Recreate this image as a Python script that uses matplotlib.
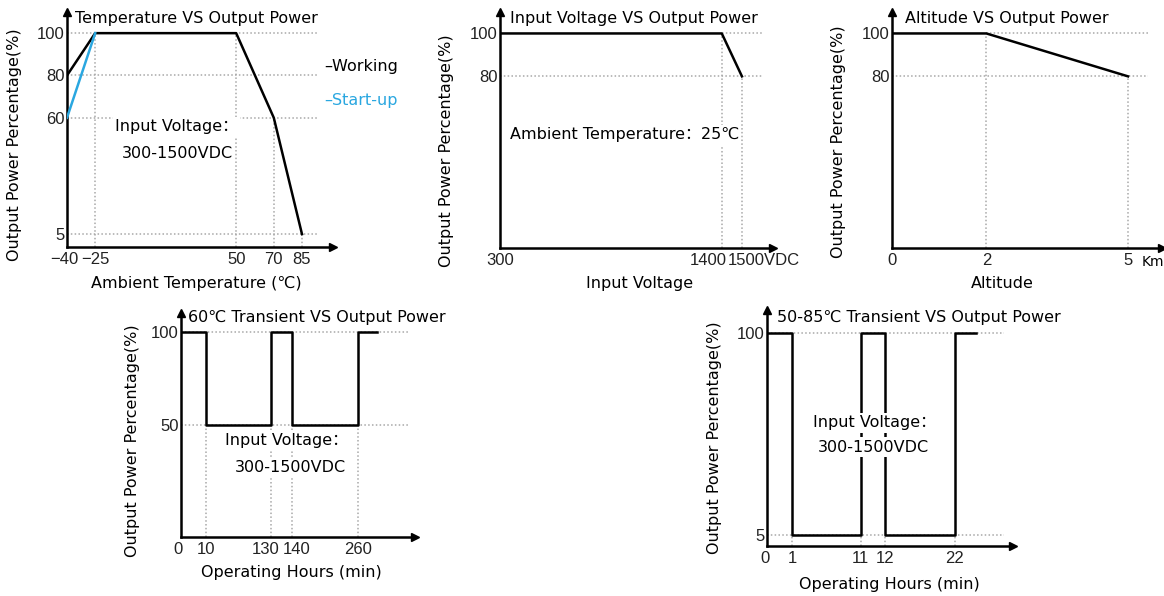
import matplotlib
matplotlib.use("Agg")
import matplotlib.pyplot as plt
import matplotlib.transforms as mtransforms
import numpy as np

plt.rcParams["font.family"] = ["DejaVu Sans", "Noto Sans CJK SC"]

W, H = 1164, 596
BLUE = "#2aa7e0"
GRID = "#a8a8a8"

# Temperature VS Output Power
temp_x = [-40, -25, 50, 70, 85]
temp_working = [80, 100, 100, 60, 5]
temp_start_x = [-40, -25]
temp_startup = [60, 100]
temp_xticks = [-40, -25, 50, 70, 85]
temp_xticklabels = ["\u221240", "\u221225", "50", "70", "85"]
temp_yticks = [5, 60, 80, 100]

# Input Voltage VS Output Power
volt_x = [300, 1400, 1500]
volt_y = [100, 100, 80]
volt_xticks = [300, 1400, 1500]
volt_xticklabels = ["300", "1400", "1500VDC"]
volt_yticks = [80, 100]

# Altitude VS Output Power
alt_x = [0, 2, 5]
alt_y = [100, 100, 80]
alt_xticks = [0, 2, 5]
alt_yticks = [80, 100]

# 60C transient
t60_x = [0, 10, 10, 130, 130, 140, 140, 260, 260, 295]
t60_y = [100, 100, 50, 50, 100, 100, 50, 50, 100, 100]
t60_xticks = [0, 10, 130, 140, 260]
t60_yticks = [50, 100]

# 50-85C transient
t85_x = [0, 1, 1, 11, 11, 12, 12, 22, 22, 25]
t85_y = [100, 100, 5, 5, 100, 100, 5, 5, 100, 100]
t85_xticks = [0, 1, 11, 12, 22]
t85_yticks = [5, 100]


def fig_xy(x, y):
    return x / W, 1 - y / H


def make_axes(fig, left, top, right, bottom):
    ax = fig.add_axes([left / W, 1 - bottom / H, (right - left) / W, (bottom - top) / H])
    ax.set_facecolor("none")
    for side in ["top", "right"]:
        ax.spines[side].set_visible(False)
    for side in ["left", "bottom"]:
        ax.spines[side].set_linewidth(1.8)
        ax.spines[side].set_color("black")
    ax.plot(1, 0, ">k", ms=6, transform=ax.transAxes, clip_on=False)
    ax.plot(0, 1, "^k", ms=6, transform=ax.transAxes, clip_on=False)
    ax.tick_params(length=0, labelsize=12, colors="#222222")
    ax.tick_params(axis="x", pad=3.5)
    ax.tick_params(axis="y", pad=1.5)
    return ax


def set_ticks(ax, xticks, xlabels, yticks):
    ax.set_xticks(xticks, xlabels)
    ax.set_yticks(yticks)
    for lab in ax.get_xticklabels() + ax.get_yticklabels():
        lab.set_fontfamily("Liberation Sans")
        lab.set_fontsize(12)


def shift_ticklabel(fig, ax, i, dx, ha="center"):
    lab = ax.get_xticklabels()[i]
    lab.set_ha(ha)
    lab.set_transform(lab.get_transform()
                      + mtransforms.ScaledTranslation(dx / 100, 0, fig.dpi_scale_trans))


def warped_scale(ax, knots, warped):
    forward = lambda v: np.interp(v, knots, warped)
    inverse = lambda v: np.interp(v, warped, knots)
    ax.set_xscale("function", functions=(forward, inverse))


def hgrid(ax, ys, x0, x1):
    ax.hlines(ys, x0, x1, colors=GRID, linestyles=(0, (1, 1.5)), lw=1.1, zorder=1)


def vgrid(ax, xs, tops):
    y0 = ax.get_ylim()[0]
    for x, t in zip(xs, tops):
        ax.vlines(x, y0, t, colors=GRID, linestyles=(0, (1, 1.5)), lw=1.1, zorder=1)


def note(fig, x, y, s, size=11.5):
    fig.text(*fig_xy(x, y), s, fontsize=size, ha="left", va="center", zorder=6,
             bbox=dict(fc="white", ec="none", pad=1.5))


def labels(fig, title, title_xy, ylabel_xy, xlabel, xlabel_xy):
    fig.text(*fig_xy(*title_xy), title, fontsize=11.5, ha="left", va="center")
    fig.text(*fig_xy(*ylabel_xy), "Output Power Percentage(%)", fontsize=11.5,
             rotation=90, ha="center", va="center")
    fig.text(*fig_xy(*xlabel_xy), xlabel, fontsize=11.5, ha="center", va="center")


fig = plt.figure(figsize=(W / 100, H / 100), dpi=100)

# chart 1
ax1 = make_axes(fig, 67, 12, 333, 247)
ax1.set_xlim(-40, 101.5)
ax1.set_ylim(-1.1, 110)
hgrid(ax1, temp_yticks, -40, 93)
vgrid(ax1, [-25, 50, 70, 85], [100, 100, 60, 5])
ax1.plot(temp_x, temp_working, color="black", lw=1.8, zorder=3)
ax1.plot(temp_start_x, temp_startup, color=BLUE, lw=1.8, zorder=4)
set_ticks(ax1, temp_xticks, temp_xticklabels, temp_yticks)
shift_ticklabel(fig, ax1, 0, -3)
labels(fig, "Temperature VS Output Power", (75, 19), (15, 145),
       "Ambient Temperature (\u2103)", (196, 283))
note(fig, 115, 127, "Input Voltage\uff1a")
note(fig, 122, 153, "300-1500VDC")
fig.text(*fig_xy(324, 67), "\u2013Working", fontsize=11.5, color="black", va="center")
fig.text(*fig_xy(324, 100), "\u2013Start-up", fontsize=11.5, color=BLUE, va="center")

# chart 2
ax2 = make_axes(fig, 500, 12, 773, 248)
ax2.set_xlim(300, 1654)
ax2.set_ylim(0, 110)
hgrid(ax2, [100], 1400, 1605)
hgrid(ax2, [80], 300, 1605)
vgrid(ax2, [1400, 1500], [100, 80])
ax2.plot(volt_x, volt_y, color="black", lw=1.8, zorder=3)
set_ticks(ax2, volt_xticks, volt_xticklabels, volt_yticks)
shift_ticklabel(fig, ax2, 1, 5, ha="right")
shift_ticklabel(fig, ax2, 2, -14, ha="left")
labels(fig, "Input Voltage VS Output Power", (510, 18), (447, 151),
       "Input Voltage", (640, 283))
note(fig, 510, 135, "Ambient Temperature\uff1a25\u2103")

# chart 3
ax3 = make_axes(fig, 892, 12, 1162, 248)
ax3.set_xlim(0, 5.72)
ax3.set_ylim(0, 110)
hgrid(ax3, [100], 2, 5.42)
hgrid(ax3, [80], 0, 5.42)
vgrid(ax3, [2, 5], [100, 80])
ax3.plot(alt_x, alt_y, color="black", lw=1.8, zorder=3)
set_ticks(ax3, alt_xticks, [str(v) for v in alt_xticks], alt_yticks)
fig.text(*fig_xy(1142, 262), "Km", fontsize=10, va="center", ha="left")
labels(fig, "Altitude VS Output Power", (905, 18), (838, 142),
       "Altitude", (1002, 283))

# chart 4
ax4 = make_axes(fig, 181, 313, 415, 537)
warped_scale(ax4, [0, 10, 130, 140, 260, 400], [0, 25, 90, 111, 177, 254])
ax4.set_xlim(0, 364)
ax4.set_ylim(-10.2, 110.2)
hgrid(ax4, [100, 50], 0, 354)
vgrid(ax4, [10, 130, 140, 260], [50, 50, 50, 50])
ax4.plot(t60_x, t60_y, color="black", lw=1.8, zorder=3)
set_ticks(ax4, t60_xticks, [str(v) for v in t60_xticks], t60_yticks)
shift_ticklabel(fig, ax4, 0, -3)
shift_ticklabel(fig, ax4, 2, -5)
shift_ticklabel(fig, ax4, 3, 5)
labels(fig, "60\u2103 Transient VS Output Power", (188, 318), (133, 441),
       "Operating Hours (min)", (291, 573))
note(fig, 225, 440, "Input Voltage\uff1a")
note(fig, 235, 467, "300-1500VDC")

# chart 5
ax5 = make_axes(fig, 767, 310, 1013, 546)
warped_scale(ax5, [0, 1, 11, 12, 22, 40], [0, 25, 94, 118, 188, 314])
ax5.set_xlim(0, 30.3)
ax5.set_ylim(-0.2, 110.9)
hgrid(ax5, [100, 5], 0, 29)
vgrid(ax5, [1, 11, 12, 22], [5, 5, 5, 5])
ax5.plot(t85_x, t85_y, color="black", lw=1.8, zorder=3)
set_ticks(ax5, t85_xticks, [str(v) for v in t85_xticks], t85_yticks)
shift_ticklabel(fig, ax5, 0, -2)
shift_ticklabel(fig, ax5, 2, -1)
labels(fig, "50-85\u2103 Transient VS Output Power", (777, 318), (715, 438),
       "Operating Hours (min)", (889, 585))
note(fig, 813, 423, "Input Voltage\uff1a")
note(fig, 818, 447, "300-1500VDC")

fig.savefig("out.png", dpi=100)
plt.close(fig)
